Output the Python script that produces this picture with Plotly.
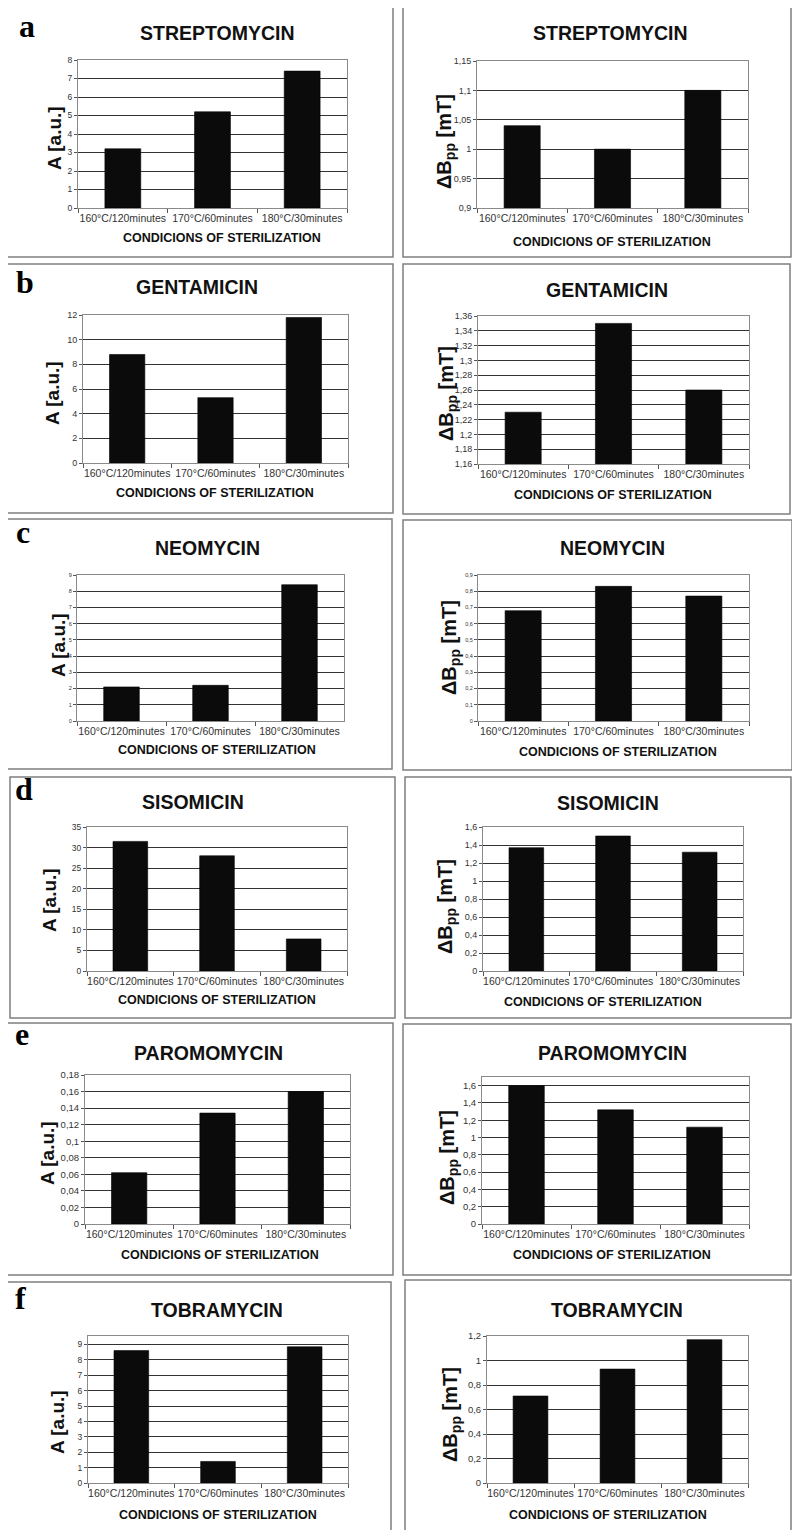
import plotly.graph_objects as go

# Page body has an 8px margin; the figure fills the rest of the 800x1538 window
OFF = 8
W, H = 800 - 2 * OFF, 1538 - 2 * OFF

categories = ["160°C/120minutes", "170°C/60minutes", "180°C/30minutes"]
drugs = ["STREPTOMYCIN", "GENTAMICIN", "NEOMYCIN", "SISOMICIN", "PAROMOMYCIN", "TOBRAMYCIN"]
letters = ["a", "b", "c", "d", "e", "f"]

# Left column: A [a.u.]
A_values = [
    [3.2, 5.2, 7.4],
    [8.8, 5.3, 11.8],
    [2.1, 2.2, 8.4],
    [31.5, 28.0, 7.8],
    [0.062, 0.134, 0.16],
    [8.6, 1.4, 8.85],
]
A_ranges = [[0, 8], [0, 12], [0, 9], [0, 35], [0, 0.18], [0, 9.55]]
A_dticks = [1, 2, 1, 5, 0.02, 1]

# Right column: ΔBpp [mT]
B_values = [
    [1.04, 1.00, 1.10],
    [1.23, 1.35, 1.26],
    [0.68, 0.83, 0.77],
    [1.37, 1.50, 1.32],
    [1.60, 1.32, 1.12],
    [0.71, 0.93, 1.17],
]
B_ranges = [[0.9, 1.15], [1.16, 1.36], [0, 0.9], [0, 1.6], [0, 1.7], [0, 1.2]]
B_dticks = [0.05, 0.02, 0.1, 0.2, 0.2, 0.2]

A_title = "A [a.u.]"
B_title = "ΔB<sub>pp</sub> [mT]"
X_title = "CONDICIONS OF STERILIZATION"

# Layout geometry (window pixels) per panel: left and right for each row
LEFT = [
    dict(plot=(78, 347, 60, 208), title=(217, 33), ytitle=(55, 138), xtitle=(222, 238), box=(7, 7, 393, 257), letter=(27, 26.5), yts=8.5),
    dict(plot=(83, 348, 315, 463), title=(197, 287), ytitle=(53, 393), xtitle=(215, 493), box=(7, 264, 393, 513), letter=(25, 282), yts=9),
    dict(plot=(77, 344, 575, 721), title=(207, 548), ytitle=(58, 645), xtitle=(217, 750), box=(7, 519, 392, 769), letter=(23, 532), yts=5.5),
    dict(plot=(87, 347, 827, 971), title=(193, 802), ytitle=(50, 900), xtitle=(217, 1000), box=(10, 777, 395, 1018), letter=(24, 789), yts=8.5),
    dict(plot=(85, 350, 1075, 1224), title=(208, 1053), ytitle=(47, 1153), xtitle=(220, 1255), box=(7, 1023, 393, 1275), letter=(22, 1034), yts=9.5),
    dict(plot=(88, 348, 1336, 1483), title=(217, 1310), ytitle=(57, 1422), xtitle=(218, 1515), box=(7, 1282, 391, 1532), letter=(20, 1298), yts=8.5),
]
RIGHT = [
    dict(plot=(477, 748, 61, 208), title=(610, 33), ytitle=(445, 142), xtitle=(612, 242), box=(403, 7, 791, 257), yts=9),
    dict(plot=(478, 749, 316, 464), title=(607, 290), ytitle=(448, 393), xtitle=(613, 495), box=(403, 264, 790, 514), yts=9),
    dict(plot=(478, 749, 575, 721), title=(612, 548), ytitle=(451, 648), xtitle=(618, 752), box=(403, 520, 792, 770), yts=5.5),
    dict(plot=(483, 743, 827, 971), title=(608, 803), ytitle=(446, 907), xtitle=(603, 1002), box=(405, 777, 791, 1018), yts=9),
    dict(plot=(482, 749, 1077, 1224), title=(612, 1053), ytitle=(448, 1157), xtitle=(612, 1255), box=(403, 1024, 791, 1275), yts=9.5),
    dict(plot=(487, 748, 1336, 1483), title=(617, 1310), ytitle=(451, 1415), xtitle=(608, 1515), box=(405, 1280, 791, 1532), yts=9.5),
]


def px(x):
    return (x - OFF) / W


def py(y):
    return 1 - (y - OFF) / H


FONT = "Liberation Sans, Arial, sans-serif"
fig = go.Figure()
annotations = []
shapes = []
layout_axes = {}

idx = 0
for row in range(6):
    for side in range(2):
        idx += 1
        g = LEFT[row] if side == 0 else RIGHT[row]
        vals = A_values[row] if side == 0 else B_values[row]
        rng = A_ranges[row] if side == 0 else B_ranges[row]
        dt = A_dticks[row] if side == 0 else B_dticks[row]
        ytitle = A_title if side == 0 else B_title
        xa = "x" if idx == 1 else f"x{idx}"
        ya = "y" if idx == 1 else f"y{idx}"
        fig.add_trace(go.Bar(
            x=categories, y=vals, xaxis=xa, yaxis=ya,
            marker=dict(color="#0b0b0b", line=dict(color="#000000", width=0.6)),
            width=0.4, showlegend=False,
        ))
        x0, x1, y0, y1 = g["plot"]
        kx = "xaxis" if idx == 1 else f"xaxis{idx}"
        ky = "yaxis" if idx == 1 else f"yaxis{idx}"
        layout_axes[kx] = dict(
            domain=[px(x0), px(x1)], anchor=ya, type="category",
            showline=True, linecolor="#8a8a8a", linewidth=1, mirror=True,
            ticks="outside", tickson="boundaries", ticklen=4, tickcolor="#555",
            tickangle=0, automargin=False,
            tickfont=dict(family=FONT, size=10.5, color="#333"),
            showgrid=False, fixedrange=True,
        )
        layout_axes[ky] = dict(
            domain=[py(y1), py(y0)], anchor=xa, range=rng, dtick=dt, tick0=0,
            showline=True, linecolor="#8a8a8a", linewidth=1, mirror=True,
            ticks="outside", ticklen=3, tickcolor="#555", automargin=False,
            tickfont=dict(family=FONT, size=g["yts"], color="#333"),
            showgrid=True, gridcolor="#333333", gridwidth=1, zeroline=False,
            fixedrange=True,
        )
        # panel border
        bx0, by0, bx1, by1 = g["box"]
        shapes.append(dict(type="rect", xref="paper", yref="paper",
                           x0=px(bx0), x1=px(bx1), y0=py(by1), y1=py(by0),
                           line=dict(color="#7f7f7f", width=1.5), layer="below"))
        # title
        tx, ty = g["title"]
        annotations.append(dict(text="<b>" + drugs[row] + "</b>", x=px(tx), y=py(ty),
                                xref="paper", yref="paper", showarrow=False,
                                xanchor="center", yanchor="middle",
                                font=dict(family=FONT, size=19.5, color="#111")))
        # y title
        yx, yy = g["ytitle"]
        annotations.append(dict(text="<b>" + ytitle + "</b>", x=px(yx), y=py(yy),
                                xref="paper", yref="paper", showarrow=False,
                                textangle=-90, xanchor="center", yanchor="middle",
                                font=dict(family=FONT, size=19 if side == 0 else 20, color="#111")))
        # x title
        xx, xy = g["xtitle"]
        annotations.append(dict(text="<b>" + X_title + "</b>", x=px(xx), y=py(xy),
                                xref="paper", yref="paper", showarrow=False,
                                xanchor="center", yanchor="middle",
                                font=dict(family=FONT, size=12.5, color="#111")))
        # panel letter
        if side == 0:
            lx, ly = g["letter"]
            annotations.append(dict(text="<b>" + letters[row] + "</b>", x=px(lx), y=py(ly),
                                    xref="paper", yref="paper", showarrow=False,
                                    xanchor="center", yanchor="middle",
                                    font=dict(family="Liberation Serif, Times New Roman, serif",
                                              size=32, color="#000")))

fig.update_layout(
    width=W, height=H, autosize=False,
    margin=dict(l=0, r=0, t=0, b=0),
    paper_bgcolor="white", plot_bgcolor="white",
    separators=", ",
    bargap=0.6,
    annotations=annotations, shapes=shapes,
    **layout_axes,
)

fig.write_html("out.html")
